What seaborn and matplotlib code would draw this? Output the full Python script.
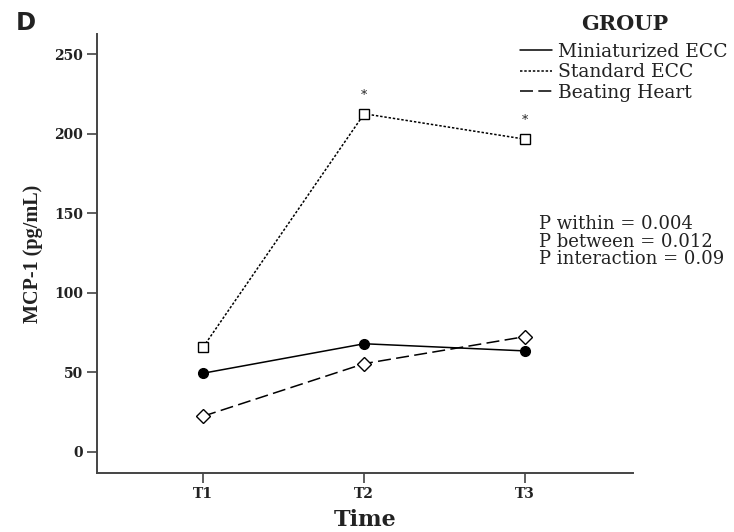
import matplotlib
matplotlib.use("Agg")
import matplotlib.pyplot as plt
from matplotlib.lines import Line2D
import seaborn as sns
import pandas as pd

times = ["T1", "T2", "T3"]
groups = ["Miniaturized ECC", "Standard ECC", "Beating Heart"]
mini_vals = [49.5, 68.0, 63.5]
std_vals = [66.0, 212.5, 196.5]
beat_vals = [22.5, 55.5, 72.5]
yticks = [0, 50, 100, 150, 200, 250]
star_times = ["T2", "T3"]
star_heights = [224, 208.5]
p_lines = ["P within = 0.004", "P between = 0.012", "P interaction = 0.09"]

sns.set_theme(style="white")
plt.rcParams["font.family"] = ["DejaVu Serif"]

df = pd.DataFrame({
    "Time": times * 3,
    "value": mini_vals + std_vals + beat_vals,
    "group": [groups[0]] * 3 + [groups[1]] * 3 + [groups[2]] * 3,
})
df["x"] = df["Time"].map({t: i for i, t in enumerate(times)})

fig = plt.figure(figsize=(7.34, 5.32), dpi=100)
ax = fig.add_axes([0.1322, 0.1109, 0.7302, 0.8252])

styles = {
    groups[0]: dict(ls="-", marker="o", mfc="black", ms=7),
    groups[1]: dict(ls=(0, (1.6, 1.2)), marker="s", mfc="white", ms=7.5),
    groups[2]: dict(ls=(0, (8.5, 3.5)), marker="D", mfc="white", ms=7),
}
for g in groups:
    st = styles[g]
    sns.lineplot(data=df[df["group"] == g], x="x", y="value", ax=ax,
                 color="black", linestyle=st["ls"], marker=st["marker"],
                 markerfacecolor=st["mfc"], markeredgecolor="black",
                 markersize=st["ms"], markeredgewidth=1.0, linewidth=1.1,
                 legend=False, zorder=3)

for t, h in zip(star_times, star_heights):
    ax.text(times.index(t), h, "*", ha="center", va="center", fontsize=9, color="#222222")

ax.set_xlim(-0.66, 2.67)
ax.set_ylim(-13.2, 262.6)
ax.set_xticks(range(len(times)))
ax.set_xticklabels(times, fontweight="bold", fontsize=10)
ax.set_yticks(yticks)
ax.set_yticklabels([str(v) for v in yticks], fontweight="bold", fontsize=10)
ax.tick_params(axis="both", direction="out", length=7, width=1.2, color="#444444",
               bottom=True, left=True, pad=3, labelcolor="#222222")
for s in ["top", "right"]:
    ax.spines[s].set_visible(False)
for s in ["left", "bottom"]:
    ax.spines[s].set_color("#444444")
    ax.spines[s].set_linewidth(1.4)

ax.set_xlabel("Time", fontsize=16, fontweight="bold", labelpad=6, color="#222222")
ax.set_ylabel("MCP-1 (pg/mL)", fontsize=14.5, fontweight="bold", labelpad=8,
              color="#222222", family="Liberation Serif")

handles = [Line2D([], [], color="black", linestyle=styles[g]["ls"], linewidth=1.1) for g in groups]
leg = fig.legend(handles, groups, loc="upper left",
                 bbox_to_anchor=(0.708, 0.920), frameon=False, fontsize=13.5,
                 handlelength=1.75, handletextpad=0.28, labelspacing=0.14,
                 borderaxespad=0, borderpad=0)
for t in leg.get_texts():
    t.set_color("#222222")

fig.text(625 / 734, 1 - 24 / 532, "GROUP", fontsize=15, fontweight="bold",
         ha="center", va="center", color="#222222")

fig.text(0.734, 0.596, "\n".join(p_lines), fontsize=13, ha="left", va="top",
         linespacing=0.97, color="#222222")

fig.text(0.021, 0.98, "D", fontsize=17.5, fontweight="bold", family="DejaVu Sans",
         ha="left", va="top", color="#222222")

fig.savefig("out.png", dpi=100)
